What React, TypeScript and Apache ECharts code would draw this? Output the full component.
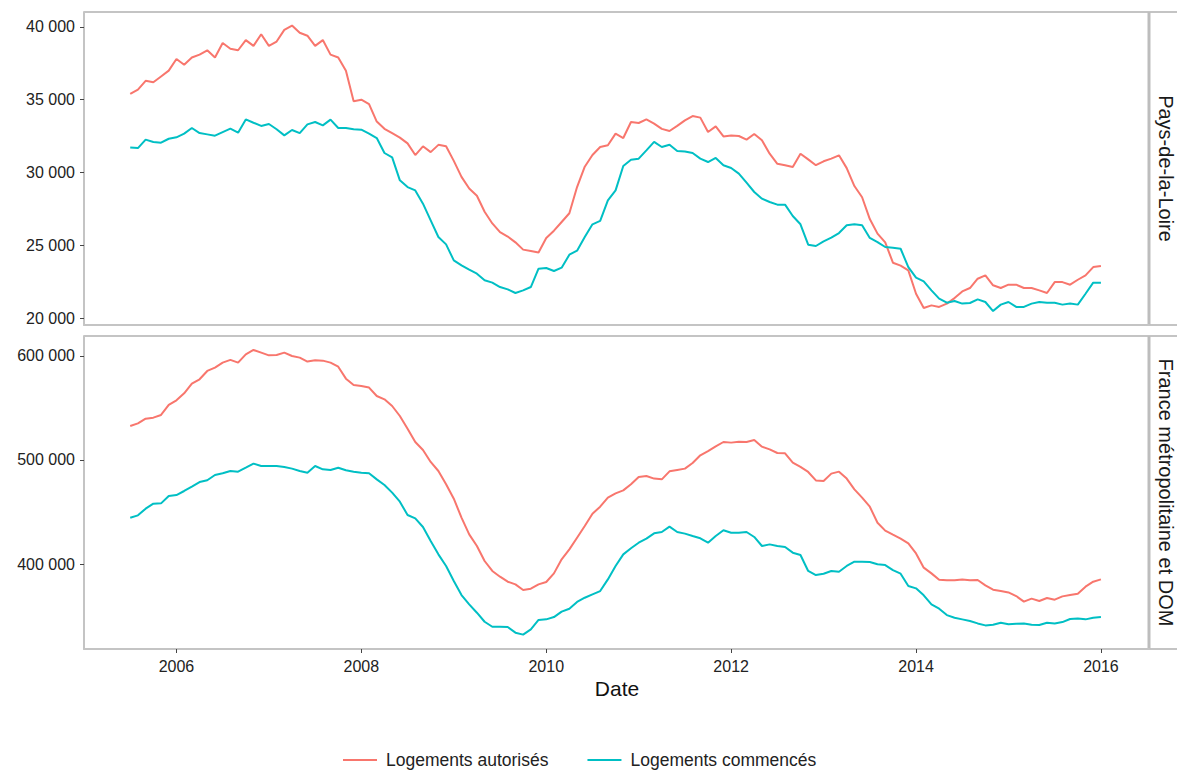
import { useEffect, useRef } from 'react';
import * as echarts from 'echarts';

// premier mois de la série : juillet 2005, pas mensuel
const START_YEAR = 2005;
const START_MONTH = 7;

const seriesNames = ['Logements autorisés', 'Logements commencés'];
const panelNames = ['Pays-de-la-Loire', 'France métropolitaine et DOM'];
const xTicks = [2006, 2008, 2010, 2012, 2014, 2016];
const yTicksPdl = [20000, 25000, 30000, 35000, 40000];
const yTicksFr = [400000, 500000, 600000];

// Pays-de-la-Loire (milliers)
const pdlAutorises = [
    35.4, 35.7, 36.3, 36.2, 36.6, 37.0, 37.8, 37.4, 37.9, 38.1,
    38.4, 37.9, 38.9, 38.5, 38.4, 39.1, 38.7, 39.5, 38.7, 39.0,
    39.8, 40.1, 39.6, 39.4, 38.7, 39.1, 38.1, 37.9, 37.0, 34.9,
    35.0, 34.7, 33.5, 33.0, 32.7, 32.4, 32.0, 31.2, 31.8, 31.4,
    31.9, 31.8, 30.8, 29.7, 28.9, 28.4, 27.3, 26.5, 25.9, 25.6,
    25.2, 24.7, 24.6, 24.5, 25.5, 26.0, 26.6, 27.2, 29.0, 30.4,
    31.2, 31.75, 31.87, 32.67, 32.37, 33.47, 33.4, 33.65, 33.36, 33.0,
    32.85, 33.2, 33.58, 33.88, 33.77, 32.78, 33.17, 32.48, 32.55, 32.51,
    32.26, 32.65, 32.21, 31.29, 30.6, 30.5, 30.38, 31.29, 30.9, 30.5,
    30.77, 30.95, 31.18, 30.3, 29.07, 28.3, 26.8, 25.8, 25.2, 23.8,
    23.6, 23.27, 21.67, 20.69, 20.87, 20.76, 20.99, 21.37, 21.83, 22.06,
    22.7, 22.93, 22.25, 22.06, 22.29, 22.29, 22.06, 22.06, 21.9, 21.72,
    22.47, 22.47, 22.29, 22.63, 22.93, 23.5, 23.57
];
const pdlCommences = [
    31.71, 31.68, 32.26, 32.1, 32.05, 32.32, 32.42, 32.67, 33.06, 32.71,
    32.62, 32.53, 32.78, 33.01, 32.74, 33.65, 33.42, 33.2, 33.33, 32.97,
    32.55, 32.92, 32.71, 33.31, 33.47, 33.24, 33.63, 33.06, 33.06, 32.97,
    32.94, 32.67, 32.37, 31.34, 31.04, 29.46, 29.0, 28.77, 27.86, 26.71,
    25.57, 25.06, 23.96, 23.62, 23.32, 23.05, 22.59, 22.43, 22.13, 21.97,
    21.72, 21.9, 22.13, 23.39, 23.44, 23.23, 23.46, 24.35, 24.63, 25.57,
    26.44, 26.67, 28.09, 28.77, 30.45, 30.88, 30.95, 31.52, 32.1, 31.75,
    31.91, 31.48, 31.45, 31.34, 30.95, 30.72, 31.0, 30.5, 30.31, 29.92,
    29.3, 28.66, 28.2, 27.97, 27.79, 27.79, 27.01, 26.44, 25.04, 24.95,
    25.27, 25.52, 25.84, 26.37, 26.44, 26.37, 25.5, 25.22, 24.88, 24.83,
    24.76, 23.5, 22.77, 22.52, 21.9, 21.33, 21.05, 21.17, 20.99, 21.03,
    21.28, 21.1, 20.48, 20.92, 21.1, 20.76, 20.76, 20.99, 21.1, 21.05,
    21.05, 20.92, 20.99, 20.92, 21.67, 22.43, 22.43
];
// France métropolitaine et DOM (milliers)
const frAutorises = [
    532.7, 535.2, 539.7, 540.7, 543.3, 552.9, 557.4, 564.1, 573.4, 577.6,
    585.6, 588.8, 593.6, 596.2, 593.6, 601.6, 605.8, 603.2, 600.6, 600.9,
    603.2, 600.0, 598.4, 594.6, 595.8, 595.5, 593.6, 589.7, 578.2, 572.1,
    571.2, 569.6, 561.5, 558.3, 551.9, 542.3, 530.1, 517.3, 509.6, 498.1,
    489.4, 476.6, 462.8, 444.6, 428.5, 417.3, 402.9, 393.3, 387.8, 383.0,
    380.4, 375.0, 376.3, 380.4, 382.7, 391.0, 404.5, 414.1, 425.3, 436.5,
    448.4, 455.1, 463.8, 467.9, 470.8, 476.6, 483.7, 484.6, 482.1, 481.4,
    489.1, 490.4, 491.7, 497.1, 504.5, 508.6, 513.1, 517.3, 516.7, 517.6,
    517.3, 519.2, 512.8, 510.2, 506.7, 506.4, 497.4, 493.3, 488.5, 480.4,
    479.8, 486.9, 488.8, 482.1, 471.8, 463.8, 455.1, 439.7, 432.1, 428.2,
    424.4, 419.9, 410.2, 396.5, 391.0, 384.9, 384.3, 384.3, 385.2, 384.3,
    384.6, 379.5, 375.3, 374.0, 372.7, 369.2, 363.8, 366.7, 364.4, 367.3,
    365.7, 368.9, 370.2, 371.5, 378.2, 383.0, 385.2
];
const frCommences = [
    444.5, 446.8, 453.2, 458.0, 458.3, 465.4, 466.3, 470.2, 474.4, 478.8,
    480.5, 485.6, 487.2, 489.4, 488.8, 492.6, 496.5, 494.2, 494.2, 494.2,
    493.3, 491.7, 489.4, 487.8, 494.2, 491.0, 490.4, 492.6, 490.1, 488.8,
    487.8, 487.2, 481.4, 476.0, 468.6, 459.9, 447.1, 443.9, 435.6, 422.1,
    409.3, 398.1, 383.6, 370.2, 361.2, 353.2, 344.5, 339.7, 339.7, 339.4,
    334.0, 332.1, 337.2, 346.2, 346.8, 349.0, 354.2, 357.0, 363.5, 367.6,
    370.8, 374.0, 385.2, 398.1, 409.3, 415.1, 420.5, 424.4, 429.5, 430.8,
    435.9, 430.8, 429.2, 426.9, 424.7, 420.5, 426.9, 432.4, 430.1, 430.1,
    430.8, 426.0, 417.3, 418.9, 417.3, 416.4, 410.9, 408.7, 393.3, 389.4,
    390.7, 393.3, 392.6, 398.1, 402.2, 402.2, 401.9, 399.7, 399.0, 394.2,
    390.7, 378.8, 376.6, 369.9, 361.2, 357.0, 350.9, 348.4, 346.8, 345.2,
    342.9, 341.0, 341.7, 343.6, 342.0, 342.6, 342.9, 341.7, 341.4, 343.6,
    342.9, 344.2, 347.1, 347.7, 346.8, 348.4, 349.0
];

const RED = '#F8766D';
const TEAL = '#00BFC4';
const FONT = 'Liberation Sans, Arial, sans-serif';

const toPoints = (vals: number[]) =>
    vals.map((v, i) => [START_YEAR + (START_MONTH - 1 + i) / 12, v * 1000]);

const fmt = (v: number) => String(Math.round(v)).replace(/\B(?=(\d{3})+(?!\d))/g, ' ');

export default function App() {
    const ref = useRef<HTMLDivElement>(null);

    useEffect(() => {
        document.body.style.margin = '0';
        if (!ref.current) return;
        const chart = echarts.init(ref.current, null, { renderer: 'svg' });

        const axisGray = '#c4c4c4';
        const grids = [
            { left: 84, top: 12, width: 1065, height: 313 },
            { left: 84, top: 336, width: 1065, height: 313 }
        ];

        const xAxis = grids.map((_, i) => ({
            type: 'value' as const,
            gridIndex: i,
            min: 2005,
            max: 2016.52,
            splitLine: { show: false },
            axisLine: { show: true, onZero: false, lineStyle: { color: axisGray, width: 2 } },
            axisTick: { show: i === 1, length: 4, lineStyle: { color: '#444' }, customValues: xTicks },
            axisLabel: {
                show: i === 1, color: '#222', fontSize: 16, fontFamily: FONT,
                margin: 9, customValues: xTicks, formatter: (v: number) => String(v)
            }
        }));

        const yAxis = [
            { ticks: yTicksPdl, min: 19520, max: 41030 },
            { ticks: yTicksFr, min: 318300, max: 619200 }
        ].map((a, i) => ({
            type: 'value' as const,
            gridIndex: i,
            min: a.min,
            max: a.max,
            splitLine: { show: false },
            axisLine: { show: true, lineStyle: { color: axisGray, width: 2 } },
            axisTick: { show: true, length: 4, lineStyle: { color: '#444' }, customValues: a.ticks },
            axisLabel: {
                color: '#222', fontSize: 16, fontFamily: FONT, margin: 9,
                customValues: a.ticks, formatter: fmt
            }
        }));

        const data = [
            [pdlAutorises, pdlCommences],
            [frAutorises, frCommences]
        ];
        const series: any[] = [];
        data.forEach((pair, gi) => {
            pair.forEach((vals, si) => {
                series.push({
                    name: seriesNames[si],
                    type: 'line',
                    xAxisIndex: gi,
                    yAxisIndex: gi,
                    data: toPoints(vals),
                    symbol: 'none',
                    color: si === 0 ? RED : TEAL,
                    lineStyle: { width: 2 }
                });
            });
        });

        const edge = { stroke: axisGray, lineWidth: 2 };
        const strips = grids.map((g, i) => ({
            type: 'group',
            children: [
                {
                    type: 'line',
                    shape: { x1: g.left, y1: g.top, x2: 1177, y2: g.top },
                    style: edge
                },
                {
                    type: 'line',
                    shape: { x1: g.left + g.width, y1: g.top + g.height, x2: 1177, y2: g.top + g.height },
                    style: edge
                },
                {
                    type: 'line',
                    shape: { x1: g.left + g.width, y1: g.top, x2: g.left + g.width, y2: g.top + g.height },
                    style: { stroke: '#bdbdbd', lineWidth: 3 }
                },
                {
                    type: 'text',
                    x: 1166,
                    y: g.top + g.height / 2,
                    rotation: -Math.PI / 2,
                    style: {
                        text: panelNames[i], fill: '#1a1a1a', fontSize: 20, fontFamily: FONT,
                        align: 'center', verticalAlign: 'middle'
                    }
                }
            ]
        }));

        chart.setOption({
            animation: false,
            backgroundColor: '#fff',
            grid: grids,
            xAxis,
            yAxis,
            series,
            legend: {
                data: seriesNames,
                bottom: 0,
                left: 338,
                icon: 'rect',
                itemWidth: 34,
                itemHeight: 2,
                itemGap: 39,
                textStyle: { fontSize: 17.5, fontFamily: FONT, color: '#222', padding: [0, 0, 0, 4] }
            },
            graphic: [
                ...strips,
                {
                    type: 'text',
                    x: 617,
                    y: 688,
                    style: {
                        text: 'Date', fill: '#111', fontSize: 21, fontFamily: FONT,
                        align: 'center', verticalAlign: 'middle'
                    }
                }
            ]
        });

        return () => chart.dispose();
    }, []);

    return <div ref={ref} style={{ width: 1177, height: 774 }} />;
}
